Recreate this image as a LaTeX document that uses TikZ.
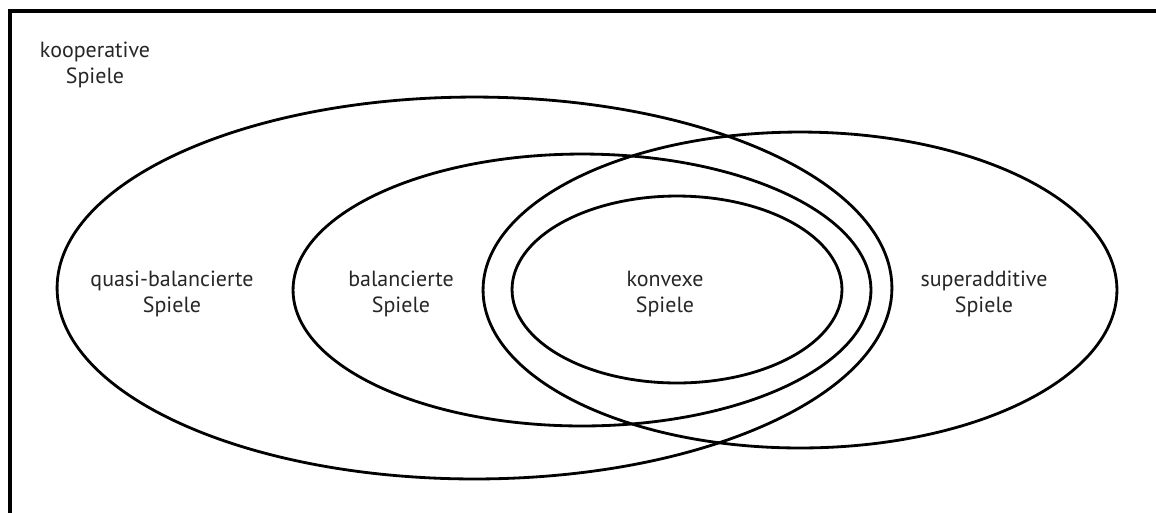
\documentclass[tikz,border=0pt]{standalone}
\usepackage{fontspec}
\setmainfont{PT Sans}
\usetikzlibrary{shapes.geometric}

\begin{document}
\begin{tikzpicture}[x=0.02cm,y=-0.02cm]

        \useasboundingbox (0,0) rectangle (1156,512);

        \coordinate (tl) at (10,11);
        \coordinate (tr) at (1160,11);
        \coordinate (bl) at (10,516);
        \draw[line width=1.8pt] (tr) -- (tl) -- (bl);

        \begin{scope}[every node/.style={ellipse, draw, line width=1.6pt, inner sep=0pt}]
          \node[minimum width=16.7cm,  minimum height=7.64cm] (quasi) at (474.5,288) {};
          \node[minimum width=11.56cm, minimum height=5.44cm] (bal)   at (582,290)   {};
          \node[minimum width=12.68cm, minimum height=6.32cm] (super) at (800,290)   {};
          \node[minimum width=6.6cm,   minimum height=3.74cm] (konv)  at (677,289.5) {};
        \end{scope}

        \begin{scope}[every node/.style={align=center, font=\fontsize{12.5}{14.7}\selectfont, text=black!85}]
          \node (lkoop)  at (95,65)   {kooperative\\Spiele};
          \node (lquasi) at (172,294) {quasi-balancierte\\Spiele};
          \node (lbal)   at (401,294) {balancierte\\Spiele};
          \node (lkonv)  at (665,294) {konvexe\\Spiele};
          \node (lsuper) at (984,294) {superadditive\\Spiele};
        \end{scope}

      \end{tikzpicture}
\end{document}
